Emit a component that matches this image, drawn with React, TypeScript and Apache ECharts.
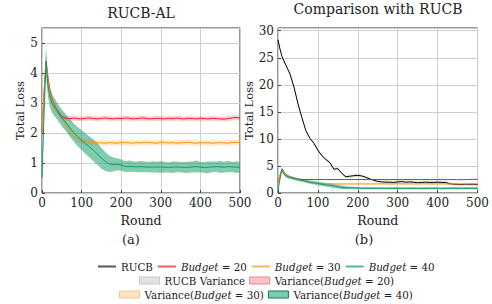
import React, { useEffect, useRef } from "react";
import * as echarts from "echarts";

const ROUNDS = [0, 5, 10, 15, 20, 25, 30, 40, 50, 60, 70, 80, 90, 100, 110, 120, 130, 140, 150, 160, 170, 180, 190, 200, 210, 220, 230, 240, 250, 260, 270, 280, 290, 300, 310, 320, 330, 340, 350, 360, 370, 380, 390, 400, 410, 420, 430, 440, 450, 460, 470, 480, 490, 500];

const RUCB = [28.3, 26.6, 25.2, 24.4, 23.6, 22.8, 22.0, 19.6, 16.5, 13.9, 11.5, 10.1, 9.2, 7.9, 6.9, 6.2, 5.6, 4.4, 4.5, 3.6, 3.0, 3.1, 3.2, 3.25, 3.15, 2.9, 2.6, 2.35, 2.15, 2.05, 2.0, 2.0, 1.95, 2.05, 2.1, 2.0, 2.05, 2.0, 1.9, 1.95, 2.0, 1.95, 1.95, 2.0, 1.95, 1.95, 1.72, 1.62, 1.6, 1.55, 1.6, 1.6, 1.6, 1.55];
const RUCB_HALF = [0.3, 0.3, 0.3, 0.3, 0.3, 0.3, 0.3, 0.3, 0.3, 0.3, 0.3, 0.3, 0.3, 0.3, 0.3, 0.3, 0.3, 0.3, 0.3, 0.3, 0.3, 0.3, 0.3, 0.3, 0.3, 0.3, 0.3, 0.3, 0.3, 0.3, 0.3, 0.3, 0.3, 0.3, 0.3, 0.3, 0.3, 0.3, 0.3, 0.3, 0.3, 0.3, 0.3, 0.3, 0.3, 0.3, 0.3, 0.3, 0.3, 0.3, 0.3, 0.3, 0.3, 0.3];

const B20 = [2.0, 3.3, 4.4, 3.8, 3.4, 3.15, 2.95, 2.72, 2.55, 2.49, 2.48, 2.5, 2.48, 2.47, 2.49, 2.5, 2.48, 2.47, 2.49, 2.5, 2.48, 2.47, 2.49, 2.48, 2.5, 2.49, 2.47, 2.48, 2.5, 2.49, 2.47, 2.48, 2.49, 2.48, 2.47, 2.49, 2.48, 2.5, 2.48, 2.47, 2.49, 2.48, 2.47, 2.49, 2.48, 2.47, 2.49, 2.48, 2.47, 2.46, 2.48, 2.5, 2.52, 2.5];
const B20_HALF = [0.05, 0.15, 0.22, 0.2, 0.16, 0.14, 0.12, 0.1, 0.09, 0.08, 0.08, 0.09, 0.08, 0.08, 0.09, 0.08, 0.08, 0.09, 0.08, 0.08, 0.09, 0.08, 0.08, 0.09, 0.08, 0.08, 0.09, 0.08, 0.08, 0.09, 0.08, 0.08, 0.09, 0.08, 0.08, 0.09, 0.08, 0.08, 0.09, 0.08, 0.08, 0.09, 0.08, 0.08, 0.09, 0.08, 0.08, 0.09, 0.08, 0.08, 0.09, 0.08, 0.08, 0.08];

const B30 = [2.0, 3.3, 4.4, 3.75, 3.35, 3.1, 2.92, 2.7, 2.5, 2.28, 2.08, 1.9, 1.8, 1.74, 1.7, 1.68, 1.67, 1.68, 1.67, 1.66, 1.68, 1.67, 1.66, 1.68, 1.69, 1.67, 1.66, 1.68, 1.67, 1.69, 1.68, 1.67, 1.66, 1.70, 1.68, 1.67, 1.68, 1.66, 1.67, 1.68, 1.69, 1.67, 1.66, 1.68, 1.67, 1.68, 1.66, 1.67, 1.68, 1.67, 1.66, 1.68, 1.69, 1.68];
const B30_HALF = [0.05, 0.15, 0.22, 0.2, 0.16, 0.14, 0.12, 0.1, 0.1, 0.1, 0.1, 0.1, 0.1, 0.09, 0.09, 0.09, 0.09, 0.08, 0.09, 0.09, 0.08, 0.09, 0.09, 0.08, 0.09, 0.1, 0.09, 0.08, 0.09, 0.09, 0.1, 0.09, 0.08, 0.09, 0.1, 0.09, 0.08, 0.09, 0.09, 0.08, 0.09, 0.1, 0.09, 0.08, 0.09, 0.09, 0.1, 0.09, 0.08, 0.09, 0.1, 0.09, 0.09, 0.09];

const B40 = [0.5, 2.6, 4.4, 3.6, 3.2, 3.0, 2.88, 2.7, 2.5, 2.35, 2.18, 2.02, 1.88, 1.76, 1.64, 1.53, 1.42, 1.3, 1.16, 1.05, 0.97, 0.95, 0.96, 0.93, 0.88, 0.89, 0.88, 0.87, 0.88, 0.87, 0.86, 0.87, 0.86, 0.87, 0.86, 0.85, 0.86, 0.87, 0.86, 0.85, 0.86, 0.87, 0.88, 0.86, 0.85, 0.86, 0.87, 0.88, 0.87, 0.86, 0.88, 0.87, 0.86, 0.86];
const B40_HALF = [0.05, 0.25, 0.5, 0.4, 0.33, 0.32, 0.3, 0.28, 0.28, 0.28, 0.3, 0.3, 0.32, 0.33, 0.35, 0.35, 0.36, 0.36, 0.35, 0.32, 0.27, 0.23, 0.2, 0.19, 0.18, 0.19, 0.17, 0.18, 0.19, 0.18, 0.17, 0.19, 0.18, 0.2, 0.18, 0.17, 0.19, 0.18, 0.17, 0.18, 0.19, 0.18, 0.2, 0.17, 0.18, 0.19, 0.18, 0.17, 0.2, 0.18, 0.19, 0.17, 0.19, 0.18];

const TITLES = ["RUCB-AL", "Comparison with RUCB"];
const SUBCAPTIONS = ["(a)", "(b)"];

const FONT = "DejaVu Serif";

const C_BLACK = "#000000";
const C_RED = "#ee1c25";
const C_ORANGE = "#f7941d";
const C_GREEN = "#139a6e";

const pairs = (ys: number[]) => ROUNDS.map((x, i) => [x, ys[i]]);

function bandSeries(name: string, c: number[], h: number[], color: string, axis: number) {
  return {
    type: "custom",
    name,
    xAxisIndex: axis,
    yAxisIndex: axis,
    coordinateSystem: "cartesian2d",
    data: ROUNDS.map((x, i) => [x, c[i] - h[i], c[i] + h[i]]),
    encode: { x: 0, y: [1, 2] },
    itemStyle: { color },
    silent: true,
    renderItem: (params: any, api: any) => {
      if (params.dataIndex !== 0) return null;
      const pts: number[][] = [];
      for (let i = 0; i < ROUNDS.length; i++) pts.push(api.coord([ROUNDS[i], c[i] + h[i]]));
      for (let i = ROUNDS.length - 1; i >= 0; i--) pts.push(api.coord([ROUNDS[i], c[i] - h[i]]));
      return { type: "polygon", shape: { points: pts }, style: { fill: color, stroke: "none" } };
    },
  };
}

function lineSeries(name: string, c: number[], color: string, axis: number) {
  return {
    type: "line",
    name,
    xAxisIndex: axis,
    yAxisIndex: axis,
    data: pairs(c),
    symbol: "none",
    lineStyle: { color, width: 1 },
    itemStyle: { color },
  };
}

export default function App() {
  const ref = useRef<HTMLDivElement>(null);
  useEffect(() => {
    if (!ref.current) return;
    const chart = echarts.init(ref.current, undefined, { renderer: "svg" });

    const axisCommonX = (gi: number) => ({
      type: "value",
      gridIndex: gi,
      min: 0,
      max: 500,
      interval: 100,
      name: "Round",
      nameLocation: "middle",
      nameGap: 14,
      nameTextStyle: { fontFamily: FONT, fontSize: 12.5, color: "#222" },
      axisLine: { show: false },
      axisTick: { show: true, inside: true, length: 3, lineStyle: { color: "#444" } },
      axisLabel: { fontFamily: FONT, fontSize: 12, color: "#222", margin: 4 },
      splitLine: { show: true, lineStyle: { color: "#cfcfcf", width: 1 } },
    });
    const axisCommonY = (gi: number, max: number, interval: number, gap: number) => ({
      type: "value",
      gridIndex: gi,
      min: 0,
      max,
      interval,
      name: "Total Loss",
      nameLocation: "middle",
      nameGap: gap,
      nameTextStyle: { fontFamily: FONT, fontSize: 11.5, color: "#222" },
      axisLine: { show: false },
      axisTick: { show: true, inside: true, length: 3, lineStyle: { color: "#444" } },
      axisLabel: { fontFamily: FONT, fontSize: 12, color: "#222", margin: 4, showMaxLabel: false },
      splitLine: { show: true, lineStyle: { color: "#cfcfcf", width: 1 } },
    });

    const legendText = {
      fontFamily: FONT,
      fontSize: 10.3,
      color: "#222",
      lineHeight: 13,
      rich: {
        i: { fontFamily: FONT, fontSize: 10.3, fontStyle: "italic", color: "#222", lineHeight: 13 },
      },
    };
    const fmt = (name: string) => name.replace("Budget", "{i|Budget}");

    const option: any = {
      animation: false,
      backgroundColor: "#ffffff",
      textStyle: { fontFamily: FONT },
      title: [
        { text: TITLES[0], left: 141, top: 6, padding: 0, textAlign: "center", textStyle: { fontFamily: FONT, fontSize: 14, fontWeight: "normal", color: "#222" } },
        { text: TITLES[1], left: 378, top: 2, padding: 0, textAlign: "center", textStyle: { fontFamily: FONT, fontSize: 14, fontWeight: "normal", color: "#222" } },
        { text: SUBCAPTIONS[0], left: 131, top: 233, padding: 0, textAlign: "center", textStyle: { fontFamily: FONT, fontSize: 13, fontWeight: "normal", color: "#222" } },
        { text: SUBCAPTIONS[1], left: 364, top: 233, padding: 0, textAlign: "center", textStyle: { fontFamily: FONT, fontSize: 13, fontWeight: "normal", color: "#222" } },
      ],
      grid: [
        { left: 42, top: 28, width: 198, height: 165, show: true, borderColor: "#333", borderWidth: 1, backgroundColor: "transparent" },
        { left: 278, top: 28, width: 200, height: 165, show: true, borderColor: "#333", borderWidth: 1, backgroundColor: "transparent" },
      ],
      xAxis: [axisCommonX(0), axisCommonX(1)],
      yAxis: [axisCommonY(0, 5.5, 1, 15), axisCommonY(1, 30.5, 5, 23)],
      legend: [
        {
          left: 98,
          top: 260,
          padding: 0,
          itemWidth: 18,
          itemHeight: 2,
          itemGap: 5,
          formatter: fmt,
          textStyle: legendText,
          selectedMode: false,
          data: [
            { name: "RUCB", icon: "rect", itemStyle: { color: "#555555" } },
            { name: "Budget = 20", icon: "rect", itemStyle: { color: "#f25a62" } },
            { name: "Budget = 30", icon: "rect", itemStyle: { color: "#fbb062" } },
            { name: "Budget = 40", icon: "rect", itemStyle: { color: "#4dbf96" } },
          ],
        },
        {
          left: 139,
          top: 274,
          padding: 0,
          itemWidth: 20,
          itemHeight: 7,
          itemGap: 4,
          formatter: fmt,
          textStyle: legendText,
          selectedMode: false,
          data: [
            { name: "RUCB Variance", icon: "rect", itemStyle: { color: "#e2e2e2", borderColor: "#c8c8c8", borderWidth: 1 } },
            { name: "Variance(Budget = 20)", icon: "rect", itemStyle: { color: "#fbc4c8", borderColor: "#f2808a", borderWidth: 1 } },
          ],
        },
        {
          left: 119,
          top: 288,
          padding: 0,
          itemWidth: 20,
          itemHeight: 7,
          itemGap: 4,
          formatter: fmt,
          textStyle: legendText,
          selectedMode: false,
          data: [
            { name: "Variance(Budget = 30)", icon: "rect", itemStyle: { color: "#fde3c6", borderColor: "#fbc58e", borderWidth: 1 } },
            { name: "Variance(Budget = 40)", icon: "rect", itemStyle: { color: "#7ecbad", borderColor: "#137a55", borderWidth: 1 } },
          ],
        },
      ],
      series: [
        lineSeries("Budget = 20", B20, C_RED, 0),
        lineSeries("Budget = 30", B30, C_ORANGE, 0),
        lineSeries("Budget = 40", B40, C_GREEN, 0),
        bandSeries("Variance(Budget = 20)", B20, B20_HALF, "rgba(255,40,50,0.22)", 0),
        bandSeries("Variance(Budget = 30)", B30, B30_HALF, "rgba(255,160,40,0.25)", 0),
        bandSeries("Variance(Budget = 40)", B40, B40_HALF, "rgba(25,160,110,0.55)", 0),
        lineSeries("RUCB", RUCB, C_BLACK, 1),
        lineSeries("Budget = 20", B20, C_RED, 1),
        lineSeries("Budget = 30", B30, C_ORANGE, 1),
        lineSeries("Budget = 40", B40, C_GREEN, 1),
        bandSeries("RUCB Variance", RUCB, RUCB_HALF, "rgba(120,120,120,0.18)", 1),
        bandSeries("Variance(Budget = 20)", B20, B20_HALF, "rgba(255,40,50,0.22)", 1),
        bandSeries("Variance(Budget = 30)", B30, B30_HALF, "rgba(255,160,40,0.25)", 1),
        bandSeries("Variance(Budget = 40)", B40, B40_HALF, "rgba(25,160,110,0.55)", 1),
      ],
    };
    chart.setOption(option);
    return () => chart.dispose();
  }, []);
  return <div ref={ref} style={{ position: "fixed", left: 0, top: 0, width: 492, height: 304 }} />;
}
